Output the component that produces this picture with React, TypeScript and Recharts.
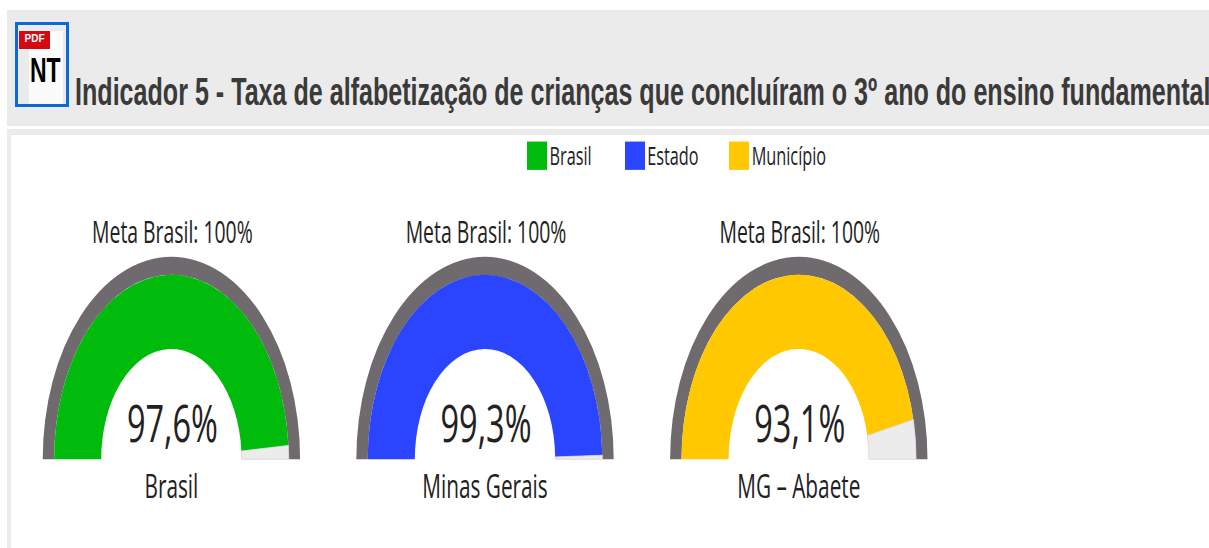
import React from 'react';
import { PieChart, Pie, Cell, Legend } from 'recharts';

const regions = ['Brasil', 'Minas Gerais', 'MG – Abaete'];
const values = [97.6, 99.3, 93.1];
const valueLabels = ['97,6%', '99,3%', '93,1%'];
const fills = ['#00BB0B', '#2B45FF', '#FFC800'];
const centers = [171.4, 485, 798.8];
const legendNames = ['Brasil', 'Estado', 'Município'];
const metaLabel = 'Meta Brasil: 100%';
const title = 'Indicador 5 - Taxa de alfabetização de crianças que concluíram o 3º ano do ensino fundamental';

// the source picture is stretched vertically, so the whole chart is too
const STRETCH = 1.573;
const WIDTH = 1209;
const HEIGHT = 548;
const CY = 292;
const textFont = '"Open Sans", sans-serif';

const GaugeLegend = () => (
  <div style={{ display: 'flex', fontFamily: textFont, fontSize: 16.3, color: '#222', lineHeight: '18px' }}>
    {legendNames.map((name, i) => (
      <div key={name} style={{ display: 'flex', marginRight: [33, 30.5, 0][i] }}>
        <div style={{ width: 20, height: 18, background: fills[i], marginRight: 2.5 }} />
        <span>{name}</span>
      </div>
    ))}
  </div>
);

const Icon = () => (
  <div style={{ position: 'absolute', left: 15, top: 22, width: 48, height: 79, border: '3px solid #0A6AD6', background: '#EBEBEB' }}>
    <div style={{ position: 'absolute', left: 11, top: 6, width: 34, height: 73, background: '#FBFBFB' }} />
    <div style={{ position: 'absolute', left: 1, top: 6, width: 31, height: 18, background: '#D40A12', color: '#fff', fontFamily: 'Liberation Sans', fontWeight: 700, fontSize: 10, lineHeight: '16px', textAlign: 'center' }}>
      PDF
    </div>
    <div style={{ position: 'absolute', left: 12, top: 24, fontFamily: 'Liberation Sans', fontWeight: 700, fontSize: 23, lineHeight: '26px', color: '#000', transform: 'scaleY(1.55)', transformOrigin: 'top left' }}>
      NT
    </div>
  </div>
);

export default function App() {
  return (
    <div style={{ position: 'absolute', left: 0, top: 0, width: WIDTH, height: HEIGHT, overflow: 'hidden', background: '#fff' }}>
      <div style={{ position: 'absolute', left: 7, top: 10, right: 0, height: 116, background: '#EBEBEB' }} />
      <div style={{ position: 'absolute', left: 7, top: 129, right: 0, height: 6, background: '#EBEBEB' }} />
      <div style={{ position: 'absolute', left: 7, top: 129, width: 4, bottom: 0, background: '#EBEBEB' }} />
      <Icon />
      <div style={{ position: 'absolute', left: 75, top: 71, whiteSpace: 'nowrap', fontFamily: 'Liberation Sans', fontWeight: 700, fontSize: 25.1, lineHeight: '26px', color: '#3A3A3A', transform: 'scaleY(1.53)', transformOrigin: 'top left' }}>
        {title}
      </div>
      <div style={{ position: 'absolute', left: 0, top: 0, transform: `scaleY(${STRETCH})`, transformOrigin: 'top left' }}>
        <PieChart width={WIDTH} height={HEIGHT / STRETCH} margin={{ top: 0, right: 0, bottom: 0, left: 0 }}>
          <Legend
            content={() => <GaugeLegend />}
            wrapperStyle={{ position: 'absolute', left: 527, top: 89.5, width: 320, height: 18 }}
          />
          {regions.map((region, i) => (
            <Pie
              key={`ring-${region}`}
              data={[{ name: region, value: 100 }]}
              dataKey="value"
              cx={centers[i]}
              cy={CY}
              startAngle={180}
              endAngle={0}
              innerRadius={117.3}
              outerRadius={128.7}
              fill="#6F6A6E"
              stroke="none"
              isAnimationActive={false}
            />
          ))}
          {regions.map((region, i) => (
            <Pie
              key={region}
              data={[
                { name: region, value: values[i] },
                { name: 'Restante', value: 100 - values[i] },
              ]}
              dataKey="value"
              cx={centers[i]}
              cy={CY}
              startAngle={180}
              endAngle={0}
              innerRadius={70.2}
              outerRadius={117.3}
              stroke="none"
              isAnimationActive={false}
            >
              <Cell fill={fills[i]} />
              <Cell fill="#ECECEC" stroke="#D4D4D4" strokeWidth={0.6} />
            </Pie>
          ))}
          {regions.map((region, i) => (
            <g key={`text-${region}`} fontFamily={textFont} textAnchor="middle" fill="#222">
              <text x={centers[i] + 1} y={154.2} fontSize={19.4}>{metaLabel}</text>
              <text x={centers[i] + 1} y={280.8} fontSize={32.5}>{valueLabels[i]}</text>
              <text x={centers[i]} y={316.9} fontSize={20.8}>{region}</text>
            </g>
          ))}
        </PieChart>
      </div>
    </div>
  );
}
